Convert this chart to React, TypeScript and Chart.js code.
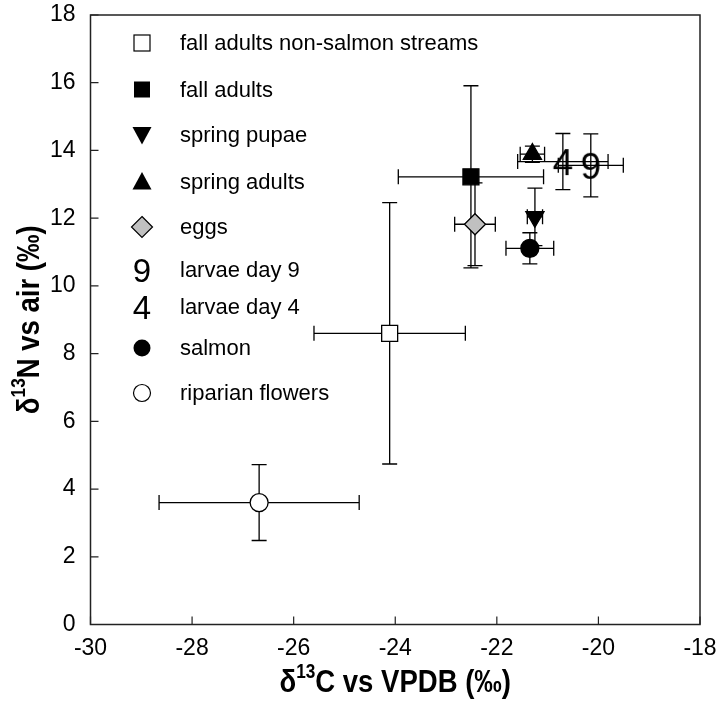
import React, { useEffect, useRef } from 'react';
import { Chart, registerables } from 'chart.js';

Chart.register(...registerables);

// Isotope means and error half-widths per group
const seriesNames = [
  'fall adults non-salmon streams',
  'fall adults',
  'spring pupae',
  'spring adults',
  'eggs',
  'larvae day 9',
  'larvae day 4',
  'salmon',
  'riparian flowers',
];
const carbonMeans = [-24.11, -22.51, -21.25, -21.3, -22.43, -20.15, -20.7, -21.35, -26.68];
const carbonErrors = [1.49, 1.43, 0.15, 0.24, 0.4, 0.64, 0.89, 0.47, 1.97];
const nitrogenMeans = [8.6, 13.22, 12.04, 13.89, 11.82, 13.56, 13.67, 11.11, 3.6];
const nitrogenErrors = [3.86, 2.69, 0.85, 0.24, 1.22, 0.93, 0.83, 0.46, 1.12];

const xTickValues = [-30, -28, -26, -24, -22, -20, -18];
const yTickValues = [0, 2, 4, 6, 8, 10, 12, 14, 16, 18];

type MarkerKind = 'openSquare' | 'square' | 'triDown' | 'triUp' | 'diamond' | 'nine' | 'four' | 'circle' | 'openCircle';
const markerKinds: MarkerKind[] = ['openSquare', 'square', 'triDown', 'triUp', 'diamond', 'nine', 'four', 'circle', 'openCircle'];

const SANS = '"Liberation Sans", Arial, Helvetica, sans-serif';

function digitImage(text: string, fontPx: number): HTMLCanvasElement {
  const c = document.createElement('canvas');
  const w = Math.round(fontPx * 0.7);
  const h = Math.round(fontPx * 0.9);
  c.width = w;
  c.height = h;
  const g = c.getContext('2d')!;
  g.fillStyle = '#000';
  g.font = `${fontPx}px ${SANS}`;
  g.textAlign = 'center';
  g.textBaseline = 'alphabetic';
  g.fillText(text, w / 2, h / 2 + fontPx * 0.358);
  return c;
}

function pointStyleFor(kind: MarkerKind) {
  switch (kind) {
    case 'openSquare':
      return { pointStyle: 'rect', radius: 11.3, bg: '#fff', border: '#000' };
    case 'square':
      return { pointStyle: 'rect', radius: 11.3, bg: '#000', border: '#000' };
    case 'triDown':
      return { pointStyle: 'triangle', radius: 10.5, bg: '#000', border: '#000', rotation: 180 };
    case 'triUp':
      return { pointStyle: 'triangle', radius: 10.5, bg: '#000', border: '#000' };
    case 'diamond':
      return { pointStyle: 'rectRot', radius: 10.5, bg: '#c0c0c0', border: '#000' };
    case 'nine':
      return { pointStyle: digitImage('9', 37), radius: 10, bg: '#000', border: '#000' };
    case 'four':
      return { pointStyle: digitImage('4', 37), radius: 10, bg: '#000', border: '#000' };
    case 'circle':
      return { pointStyle: 'circle', radius: 9, bg: '#000', border: '#000' };
    case 'openCircle':
    default:
      return { pointStyle: 'circle', radius: 9, bg: '#fff', border: '#000' };
  }
}

// Draws a legend-sized marker at (x, y)
function drawLegendMarker(ctx: CanvasRenderingContext2D, kind: MarkerKind, x: number, y: number) {
  ctx.save();
  ctx.lineWidth = 1.2;
  ctx.strokeStyle = '#000';
  ctx.fillStyle = '#000';
  const s = 8;
  switch (kind) {
    case 'openSquare':
      ctx.fillStyle = '#fff';
      ctx.fillRect(x - s, y - s, 2 * s, 2 * s);
      ctx.strokeRect(x - s, y - s, 2 * s, 2 * s);
      break;
    case 'square':
      ctx.fillRect(x - s, y - s, 2 * s, 2 * s);
      break;
    case 'triDown':
      ctx.beginPath();
      ctx.moveTo(x - 9.5, y - 8);
      ctx.lineTo(x + 9.5, y - 8);
      ctx.lineTo(x, y + 9.5);
      ctx.closePath();
      ctx.fill();
      break;
    case 'triUp':
      ctx.beginPath();
      ctx.moveTo(x - 9.5, y + 8);
      ctx.lineTo(x + 9.5, y + 8);
      ctx.lineTo(x, y - 9.5);
      ctx.closePath();
      ctx.fill();
      break;
    case 'diamond':
      ctx.beginPath();
      ctx.moveTo(x, y - 10.5);
      ctx.lineTo(x + 10.5, y);
      ctx.lineTo(x, y + 10.5);
      ctx.lineTo(x - 10.5, y);
      ctx.closePath();
      ctx.fillStyle = '#c0c0c0';
      ctx.fill();
      ctx.stroke();
      break;
    case 'nine':
    case 'four':
      ctx.font = `33px ${SANS}`;
      ctx.textAlign = 'center';
      ctx.textBaseline = 'alphabetic';
      ctx.fillText(kind === 'nine' ? '9' : '4', x, y + 33 * 0.358);
      break;
    case 'circle':
      ctx.beginPath();
      ctx.arc(x, y, 8.5, 0, Math.PI * 2);
      ctx.fill();
      break;
    case 'openCircle':
      ctx.beginPath();
      ctx.arc(x, y, 8.5, 0, Math.PI * 2);
      ctx.fillStyle = '#fff';
      ctx.fill();
      ctx.stroke();
      break;
  }
  ctx.restore();
}

const legendRows = [43, 89.5, 135, 181.5, 227, 270, 307, 348, 393];

const errorBarsPlugin = {
  id: 'errorBars',
  beforeDatasetsDraw(chart: any) {
    const { ctx, scales } = chart;
    const xs = scales.x;
    const ys = scales.y;
    const cap = 7.5;
    ctx.save();
    ctx.strokeStyle = '#000';
    ctx.lineWidth = 1.3;
    seriesNames.forEach((_, i) => {
      const cx = xs.getPixelForValue(carbonMeans[i]);
      const cy = ys.getPixelForValue(nitrogenMeans[i]);
      const x0 = xs.getPixelForValue(carbonMeans[i] - carbonErrors[i]);
      const x1 = xs.getPixelForValue(carbonMeans[i] + carbonErrors[i]);
      const y0 = ys.getPixelForValue(nitrogenMeans[i] - nitrogenErrors[i]);
      const y1 = ys.getPixelForValue(nitrogenMeans[i] + nitrogenErrors[i]);
      ctx.beginPath();
      ctx.moveTo(x0, cy);
      ctx.lineTo(x1, cy);
      ctx.moveTo(x0, cy - cap);
      ctx.lineTo(x0, cy + cap);
      ctx.moveTo(x1, cy - cap);
      ctx.lineTo(x1, cy + cap);
      ctx.moveTo(cx, y0);
      ctx.lineTo(cx, y1);
      ctx.moveTo(cx - cap, y0);
      ctx.lineTo(cx + cap, y0);
      ctx.moveTo(cx - cap, y1);
      ctx.lineTo(cx + cap, y1);
      ctx.stroke();
    });
    ctx.restore();
  },
};

const framePlugin = {
  id: 'frameAndText',
  afterDraw(chart: any) {
    const { ctx, chartArea: a, scales } = chart;
    ctx.save();
    // plot frame
    ctx.strokeStyle = '#222';
    ctx.lineWidth = 1.5;
    ctx.strokeRect(a.left, a.top, a.right - a.left, a.bottom - a.top);
    // inward tick marks on bottom and left axes
    ctx.lineWidth = 1.2;
    ctx.beginPath();
    xTickValues.forEach((v) => {
      const px = scales.x.getPixelForValue(v);
      ctx.moveTo(px, a.bottom);
      ctx.lineTo(px, a.bottom - 8);
    });
    yTickValues.forEach((v) => {
      const py = scales.y.getPixelForValue(v);
      ctx.moveTo(a.left, py);
      ctx.lineTo(a.left + 8, py);
    });
    ctx.stroke();

    // legend inside plot
    seriesNames.forEach((name, i) => {
      drawLegendMarker(ctx, markerKinds[i], 142, legendRows[i]);
      ctx.fillStyle = '#000';
      ctx.font = `22px ${SANS}`;
      ctx.textAlign = 'left';
      ctx.textBaseline = 'middle';
      ctx.fillText(name, 180, legendRows[i] + 1);
    });

    // axis titles with superscripts, in a condensed bold face
    const drawTitle = (main1: string, sup: string, main2: string, cx: number, cy: number, rot: number) => {
      ctx.save();
      ctx.translate(cx, cy);
      ctx.rotate(rot);
      ctx.scale(0.86, 1);
      const big = `bold 32px ${SANS}`;
      const small = `bold 20px ${SANS}`;
      ctx.font = big;
      const w1 = ctx.measureText(main1).width;
      const w3 = ctx.measureText(main2).width;
      ctx.font = small;
      const w2 = ctx.measureText(sup).width;
      const total = w1 + w2 + w3;
      let x = -total / 2;
      ctx.textBaseline = 'alphabetic';
      ctx.textAlign = 'left';
      ctx.fillStyle = '#000';
      ctx.font = big;
      ctx.fillText(main1, x, 9);
      x += w1;
      ctx.font = small;
      ctx.fillText(sup, x, -5);
      x += w2;
      ctx.font = big;
      ctx.fillText(main2, x, 9);
      ctx.restore();
    };
    drawTitle('δ', '13', 'C vs VPDB (‰)', (a.left + a.right) / 2, 683, 0);
    drawTitle('δ', '13', 'N vs air (‰)', 30, (a.top + a.bottom) / 2, -Math.PI / 2);
    ctx.restore();
  },
};

export default function App() {
  const canvasRef = useRef<HTMLCanvasElement | null>(null);

  useEffect(() => {
    const canvas = canvasRef.current;
    if (!canvas) return;
    const datasets = seriesNames.map((name, i) => {
      const st: any = pointStyleFor(markerKinds[i]);
      return {
        label: name,
        data: [{ x: carbonMeans[i], y: nitrogenMeans[i] }],
        pointStyle: st.pointStyle,
        pointRadius: st.radius,
        pointRotation: st.rotation || 0,
        pointBackgroundColor: st.bg,
        pointBorderColor: st.border,
        pointBorderWidth: 1.3,
        showLine: false,
      };
    });

    const chart = new Chart(canvas, {
      type: 'scatter',
      data: { datasets },
      options: {
        responsive: false,
        animation: false,
        layout: { padding: { top: 15, right: 21, left: 0, bottom: 0 } },
        plugins: {
          legend: { display: false },
          tooltip: { enabled: false },
        },
        scales: {
          x: {
            type: 'linear',
            min: -30,
            max: -18,
            grid: { display: false },
            border: { display: false },
            ticks: {
              stepSize: 2,
              color: '#000',
              font: { family: SANS, size: 23 },
              padding: 2,
              maxRotation: 0,
            },
            afterFit(scale: any) {
              scale.height = 86.5;
              scale.paddingLeft = 0;
              scale.paddingRight = 0;
            },
          },
          y: {
            type: 'linear',
            min: 0,
            max: 18,
            grid: { display: false },
            border: { display: false },
            ticks: {
              stepSize: 2,
              color: '#000',
              font: { family: SANS, size: 23 },
              padding: 7,
            },
            afterFit(scale: any) {
              scale.width = 90.5;
              scale.paddingTop = 0;
              scale.paddingBottom = 0;
            },
          },
        },
      },
      plugins: [errorBarsPlugin, framePlugin],
    });
    return () => chart.destroy();
  }, []);

  return (
    <div style={{ position: 'fixed', left: 0, top: 0, width: 721, height: 711, background: '#fff' }}>
      <canvas ref={canvasRef} width={721} height={711} style={{ display: 'block' }} />
    </div>
  );
}
